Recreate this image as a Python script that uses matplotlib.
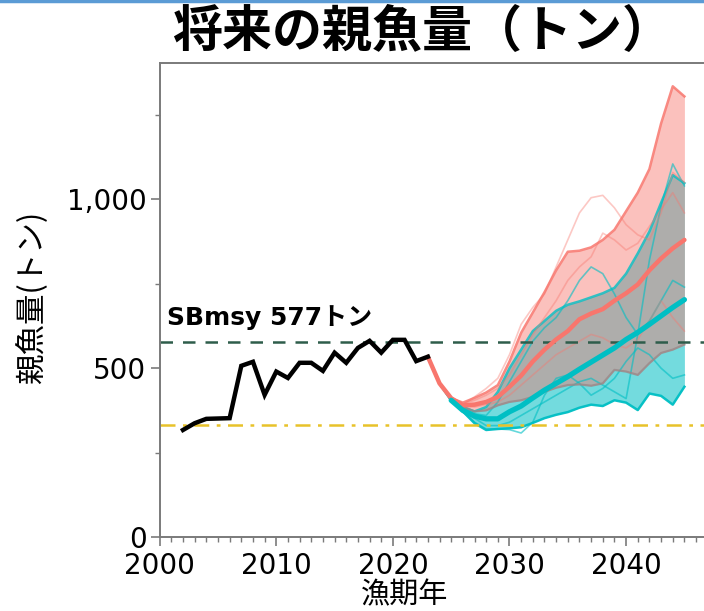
import matplotlib
matplotlib.use("Agg")
import matplotlib.pyplot as plt
from matplotlib.lines import Line2D
from matplotlib.ticker import MultipleLocator, FuncFormatter

# 実績の親魚量
hist_years = list(range(2002, 2024))
hist_ssb = [317, 337, 350, 351, 352, 507, 519, 421, 490, 471, 516,
            516, 492, 546, 516, 560, 581, 546, 584, 584, 521, 534]

# 将来予測 (2023-2045)
proj_years = list(range(2023, 2046))
red_med = [534, 455, 411, 390, 392, 400, 415, 445, 478, 520, 555, 585,
           610, 645, 662, 675, 700, 722, 748, 790, 825, 855, 880]
red_hi = [534, 455, 411, 398, 412, 428, 450, 520, 605, 665, 725, 790,
          845, 848, 858, 880, 910, 965, 1020, 1090, 1225, 1335, 1305]
red_lo = [534, 455, 411, 385, 372, 375, 390, 400, 405, 415, 430, 442,
          450, 452, 448, 455, 495, 490, 480, 515, 545, 555, 570]
cyan_med = [534, 455, 405, 375, 358, 350, 350, 371, 388, 412, 435, 455,
            475, 497, 518, 539, 560, 585, 606, 630, 655, 680, 703]
cyan_hi = [534, 455, 405, 385, 372, 385, 430, 500, 555, 610, 640, 670,
           688, 698, 710, 722, 738, 780, 840, 905, 990, 1072, 1048]
cyan_lo = [534, 455, 405, 372, 337, 317, 320, 322, 325, 338, 352, 362,
           370, 383, 392, 388, 405, 398, 376, 425, 418, 392, 445]

# 個別シミュレーション例
red_runs = [
    [534, 455, 411, 392, 415, 440, 470, 540, 630, 680, 720, 800,
     880, 960, 1005, 1012, 975, 925, 895, 880, 960, 1080, 1050],
    [534, 455, 411, 388, 385, 392, 400, 420, 450, 480, 510, 540,
     560, 580, 600, 590, 570, 560, 585, 640, 700, 650, 610],
    [534, 455, 411, 395, 405, 420, 440, 480, 540, 600, 650, 700,
     760, 800, 830, 900, 880, 850, 870, 920, 970, 1020, 960],
]
cyan_runs = [
    [534, 455, 405, 375, 352, 330, 330, 340, 360, 380, 400, 420,
     440, 460, 470, 450, 430, 410, 600, 820, 980, 1105, 1040],
    [534, 455, 405, 380, 365, 360, 400, 460, 520, 580, 620, 650,
     700, 760, 800, 780, 720, 650, 600, 640, 700, 760, 740],
    [534, 455, 405, 370, 340, 320, 320, 318, 308, 340, 420, 470,
     480, 455, 420, 440, 470, 520, 560, 540, 500, 470, 480],
]

sb_msy = 577
sb_limit = 331

RED = "#F8766D"
CYAN = "#00BFC4"
GRAY = "#7a7a7a"

fig = plt.figure(figsize=(7.04, 6.11), dpi=100)
ax = fig.add_axes([0.2268, 0.1211, 0.7732, 0.7758])

# 予測の幅 (シアン → 赤の順に重ねる)
ax.fill_between(proj_years, cyan_lo, cyan_hi, color=CYAN, alpha=0.55, lw=0)
for run in cyan_runs:
    ax.plot(proj_years, run, color=CYAN, lw=1.2, alpha=0.6)
ax.plot(proj_years, cyan_hi, color=CYAN, lw=1.8, alpha=0.8)
ax.plot(proj_years, cyan_lo, color=CYAN, lw=1.8, alpha=0.95)

ax.fill_between(proj_years, red_lo, red_hi, color=RED, alpha=0.45, lw=0)
for run in red_runs:
    ax.plot(proj_years, run, color=RED, lw=1.2, alpha=0.4)
ax.plot(proj_years, red_hi, color=RED, lw=1.8, alpha=0.85)
ax.plot(proj_years, red_lo, color="#9a8888", lw=1.6, alpha=0.8)

# 基準線
ax.axhline(sb_msy, color="#2e5d4b", lw=1.8, ls=(0, (5, 4)))
ax.axhline(sb_limit, color="#e8c22a", lw=1.8, ls=(0, (6, 3, 1.5, 3)))

ax.plot(proj_years, red_med, color=RED, lw=3.2, solid_capstyle="round")
ax.plot(proj_years[2:], cyan_med[2:], color=CYAN, lw=3.8, solid_capstyle="round")
ax.plot(hist_years, hist_ssb, color="black", lw=3.2, solid_joinstyle="miter")

ax.text(2000.6, 628, "SBmsy 577トン", fontsize=18, fontweight="bold",
        family=["DejaVu Sans", "Noto Sans CJK JP"], va="baseline", ha="left")

ax.set_xlim(2000, 2046.68)
ax.set_ylim(0, 1404)
ax.xaxis.set_major_locator(MultipleLocator(10))
ax.xaxis.set_minor_locator(MultipleLocator(1))
ax.yaxis.set_major_locator(MultipleLocator(500))
ax.yaxis.set_minor_locator(MultipleLocator(250))
ax.yaxis.set_major_formatter(FuncFormatter(lambda v, p: f"{v:,.0f}"))

ax.spines["right"].set_visible(False)
for s in ["left", "bottom", "top"]:
    ax.spines[s].set_color(GRAY)
    ax.spines[s].set_linewidth(1.4)
ax.tick_params(which="major", length=6.5, width=1.2, color=GRAY,
               labelsize=20, pad=3)
ax.tick_params(which="minor", length=3.5, width=1.0, color=GRAY)
ax.tick_params(axis="x", which="major", pad=4)
for lab in ax.get_xticklabels() + ax.get_yticklabels():
    lab.set_family("DejaVu Sans")

fig.text(0.044, 0.514, "親魚量(トン)", rotation=90, ha="center", va="center",
         fontsize=22, family=["Noto Sans CJK JP", "DejaVu Sans"])
fig.text(0.575, 0.0005, "漁期年", ha="center", va="bottom",
         fontsize=21, family=["Noto Sans CJK JP", "DejaVu Sans"])
fig.text(0.599, 0.946, "将来の親魚量（トン）", ha="center", va="center",
         fontsize=36, fontweight="bold", family=["Noto Sans CJK JP", "DejaVu Sans"])

fig.add_artist(Line2D([0, 1], [0.998, 0.998], transform=fig.transFigure,
                      color="#5B9BD5", lw=2.5))

fig.savefig("out.png", dpi=100)
